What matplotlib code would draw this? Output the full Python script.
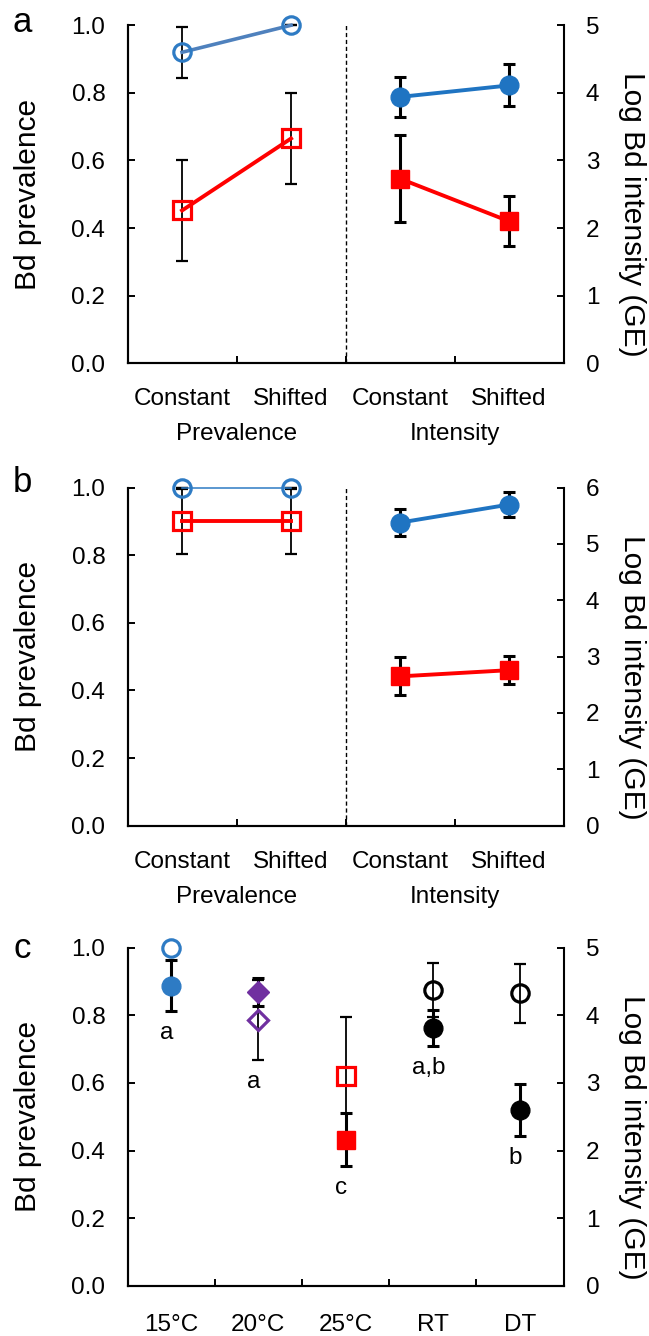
import matplotlib.pyplot as plt

plt.rcParams['font.family'] = ['Liberation Sans', 'DejaVu Sans']

BLUE = '#1f74c2'
BLUE_OPEN = '#2e7bc4'
BLUE_LINE = '#4f81bd'
RED = '#ff0000'
PURPLE = '#7030a0'

treatments = ['Constant', 'Shifted', 'Constant', 'Shifted']
groups = ['Prevalence', 'Intensity']

# panel a
a_prev_blue = [0.92, 1.0]
a_prev_blue_err = [0.075, 0.0]
a_prev_red = [0.452, 0.665]
a_prev_red_err = [0.15, 0.135]
a_int_blue = [3.94, 4.11]
a_int_blue_err = [0.30, 0.31]
a_int_red = [2.73, 2.10]
a_int_red_err = [0.64, 0.37]

# panel b
b_prev_blue = [1.0, 1.0]
b_prev_blue_err = [0.0, 0.0]
b_prev_red = [0.90, 0.90]
b_prev_red_err = [0.097, 0.097]
b_int_blue = [5.38, 5.70]
b_int_blue_err = [0.235, 0.215]
b_int_red = [2.65, 2.76]
b_int_red_err = [0.335, 0.25]

# panel c
c_temps = ['15°C', '20°C', '25°C', 'RT', 'DT']
c_prev = [1.0, 0.786, 0.622, 0.875, 0.865]
c_prev_err = [0.0, 0.118, 0.174, 0.08, 0.087]
c_int = [4.44, 4.35, 2.16, 3.81, 2.60]
c_int_err = [0.375, 0.205, 0.39, 0.27, 0.39]
c_colors = [BLUE_OPEN, PURPLE, RED, 'black', 'black']
c_markers = ['o', 'D', 's', 'o', 'o']
c_letters = ['a', 'a', 'c', 'a,b', 'b']

FS = 17.5


def setup(ax, ax2, labels, right_max, cat_pad):
    n = len(labels)
    ax.set_xlim(0, n)
    ax.set_ylim(0, 1)
    ax2.set_ylim(0, right_max)
    ax.set_yticks([i / 5 for i in range(6)])
    ax.set_yticklabels([f'{i / 5:.1f}' for i in range(6)])
    ax2.set_yticks(range(right_max + 1))
    ax.set_xticks(range(1, n))
    ax.set_xticklabels([])
    ax.set_xticks([i + 0.5 for i in range(n)], labels, minor=True)
    for a in (ax, ax2):
        a.spines['top'].set_visible(False)
        for s in a.spines.values():
            s.set_linewidth(1.5)
    ax.spines['right'].set_visible(False)
    ax.tick_params(which='major', direction='in', length=5, width=1.4,
                   labelsize=FS, pad=16)
    ax.tick_params(axis='x', which='minor', length=0, labelsize=FS, pad=cat_pad)
    ax2.tick_params(direction='in', length=5, width=1.4, labelsize=FS, pad=16)
    ax.set_ylabel('Bd prevalence', fontsize=21.5)
    ax.yaxis.set_label_coords(-0.195, 0.5)
    ax2.set_ylabel('Log Bd intensity (GE)', fontsize=21.5, rotation=270,
                   va='bottom')
    ax2.yaxis.set_label_coords(1.125, 0.44)


def pair_panel(ax, ax2, prev_blue, prev_blue_err, prev_red, prev_red_err,
               int_blue, int_blue_err, int_red, int_red_err, blue_lw):
    x_prev = [0.5, 1.5]
    x_int = [2.5, 3.5]
    ax.axvline(2, color='black', lw=1, ls=(0, (3, 2)))
    eb = dict(fmt='none', ecolor='black', capsize=4.5, zorder=2, clip_on=False)
    ax.errorbar(x_prev, prev_blue, yerr=prev_blue_err, elinewidth=1.3, capthick=1.6, **eb)
    ax.errorbar(x_prev, prev_red, yerr=prev_red_err, elinewidth=1.3, capthick=1.6, **eb)
    ax.plot(x_prev, prev_blue, '-o', color=blue_lw[1], lw=blue_lw[0], ms=12.5,
            mfc='none', mec=BLUE_OPEN, mew=2.3, zorder=3, clip_on=False)
    ax.plot(x_prev, prev_red, '-s', color=RED, lw=2.8, ms=12.5,
            mfc='none', mec=RED, mew=2.3, zorder=3, clip_on=False)
    ax2.errorbar(x_int, int_blue, yerr=int_blue_err, elinewidth=2.2, capthick=2.2, **eb)
    ax2.errorbar(x_int, int_red, yerr=int_red_err, elinewidth=2.2, capthick=2.2, **eb)
    ax2.plot(x_int, int_blue, '-o', color=BLUE, lw=2.8, ms=13.5, zorder=3)
    ax2.plot(x_int, int_red, '-s', color=RED, lw=2.8, ms=13.5, zorder=3)
    tr = ax.get_xaxis_transform()
    for gx, g in zip([1, 3], groups):
        ax.text(gx, -0.21, g, transform=tr, ha='center', va='center', fontsize=FS)


fig = plt.figure(figsize=(6.49, 13.36), dpi=100)
left, width, height = 0.1965, 0.672, 0.253

ax_a = fig.add_axes([left, 0.7281, width, height])
ax_a2 = ax_a.twinx()
setup(ax_a, ax_a2, treatments, 5, 18)
pair_panel(ax_a, ax_a2, a_prev_blue, a_prev_blue_err, a_prev_red, a_prev_red_err,
           a_int_blue, a_int_blue_err, a_int_red, a_int_red_err, (2.6, BLUE_LINE))

ax_b = fig.add_axes([left, 0.3820, width, height])
ax_b2 = ax_b.twinx()
setup(ax_b, ax_b2, treatments, 6, 18)
pair_panel(ax_b, ax_b2, b_prev_blue, b_prev_blue_err, b_prev_red, b_prev_red_err,
           b_int_blue, b_int_blue_err, b_int_red, b_int_red_err, (1.1, BLUE_OPEN))

ax_c = fig.add_axes([left, 0.0376, width, height])
ax_c2 = ax_c.twinx()
setup(ax_c, ax_c2, c_temps, 5, 20)
for i in range(len(c_temps)):
    x = i + 0.5
    ms = 10.5 if c_markers[i] == 'D' else 12.5
    if c_prev_err[i] > 0:
        ax_c.errorbar(x, c_prev[i], yerr=c_prev_err[i], fmt='none', ecolor='black',
                      elinewidth=1.3, capsize=4.5, capthick=1.6, zorder=2)
    ax_c.plot(x, c_prev[i], c_markers[i], ms=ms, mfc='none', mec=c_colors[i],
              mew=2.3, zorder=3, clip_on=False)
    ax_c2.errorbar(x, c_int[i], yerr=c_int_err[i], fmt='none', ecolor='black',
                   elinewidth=2.2, capsize=4.5, capthick=2.2, zorder=2)
    ax_c2.plot(x, c_int[i], c_markers[i], ms=ms + 1, color=c_colors[i], zorder=3)
    low = min(c_int[i] - c_int_err[i], 5 * (c_prev[i] - c_prev_err[i]))
    ax_c2.text(x - 0.05, low - 0.32, c_letters[i], ha='center', va='center',
               fontsize=FS)

for letter, y in zip('abc', [22, 483, 948]):
    fig.text(22 / 649, 1 - y / 1336, letter, ha='center', va='center', fontsize=25)

fig.savefig('out.png', dpi=100)
